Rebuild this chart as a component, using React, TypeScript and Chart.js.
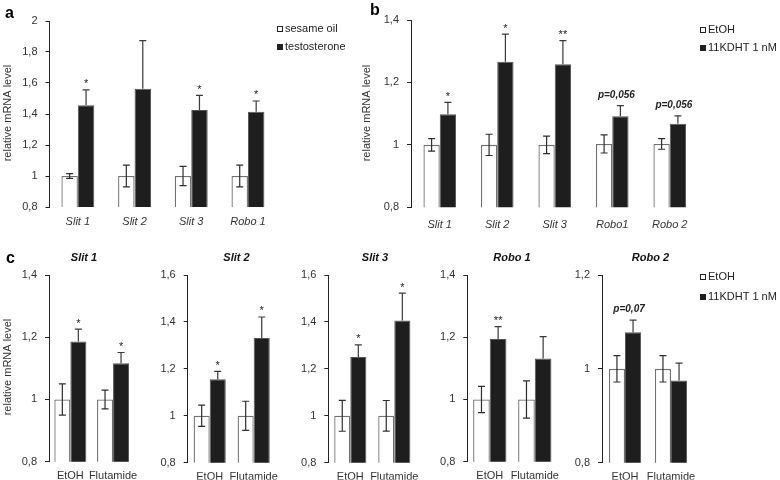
import React, { useEffect, useRef } from 'react';
import { Chart, registerables } from 'chart.js';

Chart.register(...registerables);

const FONT = "'Liberation Sans', Arial, Helvetica, sans-serif";

// ---------- Panel a ----------
const aCategories = ['Slit 1', 'Slit 2', 'Slit 3', 'Robo 1'];
const aLegend = ['sesame oil', 'testosterone'];
const aControl = [1, 1, 1, 1];
const aControlErr = [0.015, 0.07, 0.062, 0.07];
const aTreated = [1.456, 1.563, 1.426, 1.415];
const aTreatedErr = [0.1, 0.31, 0.094, 0.069];
const aSignif = ['*', '', '*', '*'];
const aTicks = [0.8, 1, 1.2, 1.4, 1.6, 1.8, 2];

// ---------- Panel b ----------
const bCategories = ['Slit 1', 'Slit 2', 'Slit 3', 'Robo1', 'Robo 2'];
const bcLegend = ['EtOH', '11KDHT 1 nM'];
const bControl = [1, 1, 1, 1.003, 1.003];
const bControlErr = [0.02, 0.034, 0.028, 0.029, 0.017];
const bTreated = [1.098, 1.266, 1.258, 1.092, 1.068];
const bTreatedErr = [0.038, 0.089, 0.076, 0.034, 0.025];
const bSignif = ['*', '*', '**', 'p=0,056', 'p=0,056'];
const bTicks = [0.8, 1, 1.2, 1.4];

// ---------- Panel c ----------
const cCategories = ['EtOH', 'Flutamide'];

const c1Title = 'Slit 1';
const c1Control = [1, 1];
const c1ControlErr = [0.05, 0.03];
const c1Treated = [1.186, 1.116];
const c1TreatedErr = [0.04, 0.035];
const c1Signif = ['*', '*'];
const c1Ticks = [0.8, 1, 1.2, 1.4];

const c2Title = 'Slit 2';
const c2Control = [1, 1];
const c2ControlErr = [0.045, 0.062];
const c2Treated = [1.156, 1.331];
const c2TreatedErr = [0.033, 0.09];
const c2Signif = ['*', '*'];
const c2Ticks = [0.8, 1, 1.2, 1.4, 1.6];

const c3Title = 'Slit 3';
const c3Control = [1, 1];
const c3ControlErr = [0.066, 0.065];
const c3Treated = [1.25, 1.406];
const c3TreatedErr = [0.052, 0.117];
const c3Signif = ['*', '*'];
const c3Ticks = [0.8, 1, 1.2, 1.4, 1.6];

const c4Title = 'Robo 1';
const c4Control = [1, 1];
const c4ControlErr = [0.042, 0.06];
const c4Treated = [1.194, 1.132];
const c4TreatedErr = [0.04, 0.07];
const c4Signif = ['**', ''];
const c4Ticks = [0.8, 1, 1.2, 1.4];

const c5Title = 'Robo 2';
const c5Control = [1, 1];
const c5ControlErr = [0.028, 0.028];
const c5Treated = [1.078, 0.975];
const c5TreatedErr = [0.026, 0.037];
const c5Signif = ['p=0,07', ''];
const c5Ticks = [0.8, 1, 1.2];

const Y_LABEL = 'relative mRNA level';

const W = 780;
const H = 480;
const YW = 40;

type Panel = {
  key: string;
  labels: string[];
  legendNames: string[];
  control: number[];
  controlErr: number[];
  treated: number[];
  treatedErr: number[];
  signif: string[];
  ticks: number[];
  area: { l: number; t: number; r: number; b: number };
  xh: number;
  catPct: number;
  italicCats: boolean;
  xPad: number;
  title?: string;
  titleX?: number;
  titleY?: number;
  letter?: { text: string; x: number; y: number };
  ylabel?: { x: number; y: number };
  legend?: { x: number; y1: number; y2: number };
};

const panels: Panel[] = [
  {
    key: 'a', labels: aCategories, legendNames: aLegend,
    control: aControl, controlErr: aControlErr, treated: aTreated, treatedErr: aTreatedErr,
    signif: aSignif, ticks: aTicks,
    area: { l: 49.5, t: 21, r: 276.3, b: 207 }, xh: 30, catPct: 0.58, italicCats: true, xPad: 0,
    letter: { text: 'a', x: 5, y: 18 }, ylabel: { x: 8, y: 113 },
    legend: { x: 277, y1: 29, y2: 47 },
  },
  {
    key: 'b', labels: bCategories, legendNames: bcLegend,
    control: bControl, controlErr: bControlErr, treated: bTreated, treatedErr: bTreatedErr,
    signif: bSignif, ticks: bTicks,
    area: { l: 411, t: 20, r: 698.5, b: 207.3 }, xh: 30, catPct: 0.567, italicCats: true, xPad: 3,
    letter: { text: 'b', x: 370, y: 15 }, ylabel: { x: 367, y: 113 },
    legend: { x: 700, y1: 30, y2: 48 },
  },
  {
    key: 'c1', labels: cCategories, legendNames: bcLegend,
    control: c1Control, controlErr: c1ControlErr, treated: c1Treated, treatedErr: c1TreatedErr,
    signif: c1Signif, ticks: c1Ticks,
    area: { l: 49, t: 275, r: 134.4, b: 461.7 }, xh: 18, catPct: 0.75, italicCats: false, xPad: 0,
    title: c1Title, titleX: 84, titleY: 258,
    letter: { text: 'c', x: 6, y: 263 }, ylabel: { x: 8, y: 367 },
  },
  {
    key: 'c2', labels: cCategories, legendNames: bcLegend,
    control: c2Control, controlErr: c2ControlErr, treated: c2Treated, treatedErr: c2TreatedErr,
    signif: c2Signif, ticks: c2Ticks,
    area: { l: 187.7, t: 275, r: 275.7, b: 462.7 }, xh: 17, catPct: 0.73, italicCats: false, xPad: 0,
    title: c2Title, titleX: 236.5, titleY: 258,
  },
  {
    key: 'c3', labels: cCategories, legendNames: bcLegend,
    control: c3Control, controlErr: c3ControlErr, treated: c3Treated, treatedErr: c3TreatedErr,
    signif: c3Signif, ticks: c3Ticks,
    area: { l: 328.3, t: 275, r: 416.3, b: 462.7 }, xh: 17, catPct: 0.73, italicCats: false, xPad: 0,
    title: c3Title, titleX: 375, titleY: 258,
  },
  {
    key: 'c4', labels: cCategories, legendNames: bcLegend,
    control: c4Control, controlErr: c4ControlErr, treated: c4Treated, treatedErr: c4TreatedErr,
    signif: c4Signif, ticks: c4Ticks,
    area: { l: 467.3, t: 275, r: 557.3, b: 461.7 }, xh: 18, catPct: 0.74, italicCats: false, xPad: 0,
    title: c4Title, titleX: 512, titleY: 258,
  },
  {
    key: 'c5', labels: cCategories, legendNames: bcLegend,
    control: c5Control, controlErr: c5ControlErr, treated: c5Treated, treatedErr: c5TreatedErr,
    signif: c5Signif, ticks: c5Ticks,
    area: { l: 602, t: 275, r: 694, b: 462.7 }, xh: 17, catPct: 0.7, italicCats: false, xPad: 0,
    title: c5Title, titleX: 650.5, titleY: 258,
    legend: { x: 700, y1: 277, y2: 297 },
  },
];

const fmt = (v: number) => String(Math.round(v * 10) / 10).replace('.', ',');

function makeDecor(p: Panel) {
  return {
    id: 'decor_' + p.key,
    afterDraw(chart: any) {
      const ctx: CanvasRenderingContext2D = chart.ctx;
      const ys = chart.scales.y;
      const metaC = chart.getDatasetMeta(0);
      const metaT = chart.getDatasetMeta(1);
      const cap = 3.5;
      ctx.save();
      ctx.strokeStyle = '#2e2e2e';
      ctx.lineWidth = 1.2;
      p.control.forEach((v, i) => {
        const e = p.controlErr[i];
        const x = metaC.data[i].x;
        const y1 = ys.getPixelForValue(v + e);
        const y2 = ys.getPixelForValue(v - e);
        ctx.beginPath();
        ctx.moveTo(x, y1); ctx.lineTo(x, y2);
        ctx.moveTo(x - cap, y1); ctx.lineTo(x + cap, y1);
        ctx.moveTo(x - cap, y2); ctx.lineTo(x + cap, y2);
        ctx.stroke();
      });
      ctx.strokeStyle = '#3a3a3a';
      p.treated.forEach((v, i) => {
        const e = p.treatedErr[i];
        const x = metaT.data[i].x;
        const y0 = ys.getPixelForValue(v);
        const y1 = ys.getPixelForValue(v + e);
        ctx.beginPath();
        ctx.moveTo(x, y0); ctx.lineTo(x, y1);
        ctx.moveTo(x - cap, y1); ctx.lineTo(x + cap, y1);
        ctx.stroke();
      });
      ctx.fillStyle = '#222';
      ctx.textAlign = 'center';
      ctx.textBaseline = 'alphabetic';
      p.signif.forEach((s, i) => {
        if (!s) return;
        const x = metaT.data[i].x;
        const yTop = ys.getPixelForValue(p.treated[i] + p.treatedErr[i]);
        if (s.startsWith('p')) {
          ctx.font = `bold italic 10px ${FONT}`;
          ctx.fillText(s, x - 4, yTop - 8);
        } else {
          ctx.font = `11px ${FONT}`;
          ctx.fillText(s, x, yTop - 2.5);
        }
      });
      if (p.title) {
        ctx.font = `bold italic 11px ${FONT}`;
        ctx.textAlign = 'center';
        ctx.textBaseline = 'middle';
        ctx.fillStyle = '#111';
        ctx.fillText(p.title, p.titleX!, p.titleY!);
      }
      if (p.letter) {
        ctx.font = `bold 16px ${FONT}`;
        ctx.textAlign = 'left';
        ctx.textBaseline = 'alphabetic';
        ctx.fillStyle = '#000';
        ctx.fillText(p.letter.text, p.letter.x, p.letter.y);
      }
      if (p.ylabel) {
        ctx.save();
        ctx.translate(p.ylabel.x, p.ylabel.y);
        ctx.rotate(-Math.PI / 2);
        ctx.font = `11px ${FONT}`;
        ctx.textAlign = 'center';
        ctx.textBaseline = 'middle';
        ctx.fillStyle = '#333';
        ctx.fillText(Y_LABEL, 0, 0);
        ctx.restore();
      }
      if (p.legend) {
        const lg = p.legend;
        const sq = 6;
        ctx.lineWidth = 1;
        ctx.font = `11px ${FONT}`;
        ctx.textAlign = 'left';
        ctx.textBaseline = 'middle';
        [lg.y1, lg.y2].forEach((yy, k) => {
          ctx.fillStyle = k === 0 ? '#fff' : '#1e1e1e';
          ctx.strokeStyle = '#222';
          ctx.fillRect(lg.x, yy - sq / 2, sq, sq);
          ctx.strokeRect(lg.x + 0.5, yy - sq / 2 + 0.5, sq - 1, sq - 1);
          ctx.fillStyle = '#222';
          ctx.fillText(p.legendNames[k], lg.x + sq + 2, yy);
        });
      }
      ctx.restore();
    },
  };
}

function PanelChart({ p }: { p: Panel }) {
  const ref = useRef<HTMLCanvasElement>(null);
  useEffect(() => {
    if (!ref.current) return;
    const { l, t, r, b } = p.area;
    const chart = new Chart(ref.current, {
      type: 'bar',
      data: {
        labels: p.labels,
        datasets: [
          {
            label: p.legendNames[0],
            data: p.control,
            backgroundColor: '#ffffff',
            borderColor: '#707070',
            borderWidth: 1.3,
            borderSkipped: false,
            categoryPercentage: p.catPct,
            barPercentage: 1,
          },
          {
            label: p.legendNames[1],
            data: p.treated,
            backgroundColor: '#1e1e1e',
            borderColor: '#555555',
            borderWidth: 1,
            borderSkipped: false,
            categoryPercentage: p.catPct,
            barPercentage: 1,
          },
        ],
      },
      options: {
        responsive: false,
        maintainAspectRatio: false,
        animation: false,
        devicePixelRatio: 1,
        layout: { padding: { left: l - YW, top: t, right: W - r, bottom: Math.max(0, H - b - p.xh) } },
        plugins: { legend: { display: false }, tooltip: { enabled: false }, title: { display: false } },
        scales: {
          x: {
            grid: { display: false },
            border: { display: false },
            ticks: {
              font: { family: FONT, size: 11, style: p.italicCats ? 'italic' : 'normal' },
              color: '#333',
              padding: p.xPad,
              maxRotation: 0,
              autoSkip: false,
            },
            afterFit: (s: any) => { s.height = p.xh; },
          },
          y: {
            min: p.ticks[0],
            max: p.ticks[p.ticks.length - 1],
            afterBuildTicks: (s: any) => { s.ticks = p.ticks.map((v) => ({ value: v })); },
            grid: { drawOnChartArea: false, drawTicks: true, tickLength: 4, color: '#222', lineWidth: 1 },
            border: { display: true, color: '#222', width: 1 },
            ticks: {
              font: { family: FONT, size: 11 },
              color: '#333',
              padding: 8,
              callback: (v: any) => fmt(Number(v)),
            },
            afterFit: (s: any) => { s.width = YW; },
          },
        },
      } as any,
      plugins: [makeDecor(p)],
    });
    return () => chart.destroy();
  }, [p]);
  return (
    <canvas
      ref={ref}
      width={W}
      height={H}
      style={{ position: 'absolute', left: 0, top: 0, width: W, height: H }}
    />
  );
}

export default function App() {
  return (
    <div style={{ position: 'absolute', left: 0, top: 0, width: W, height: H, background: '#fff', fontFamily: FONT }}>
      {panels.map((p) => (
        <PanelChart key={p.key} p={p} />
      ))}
    </div>
  );
}
